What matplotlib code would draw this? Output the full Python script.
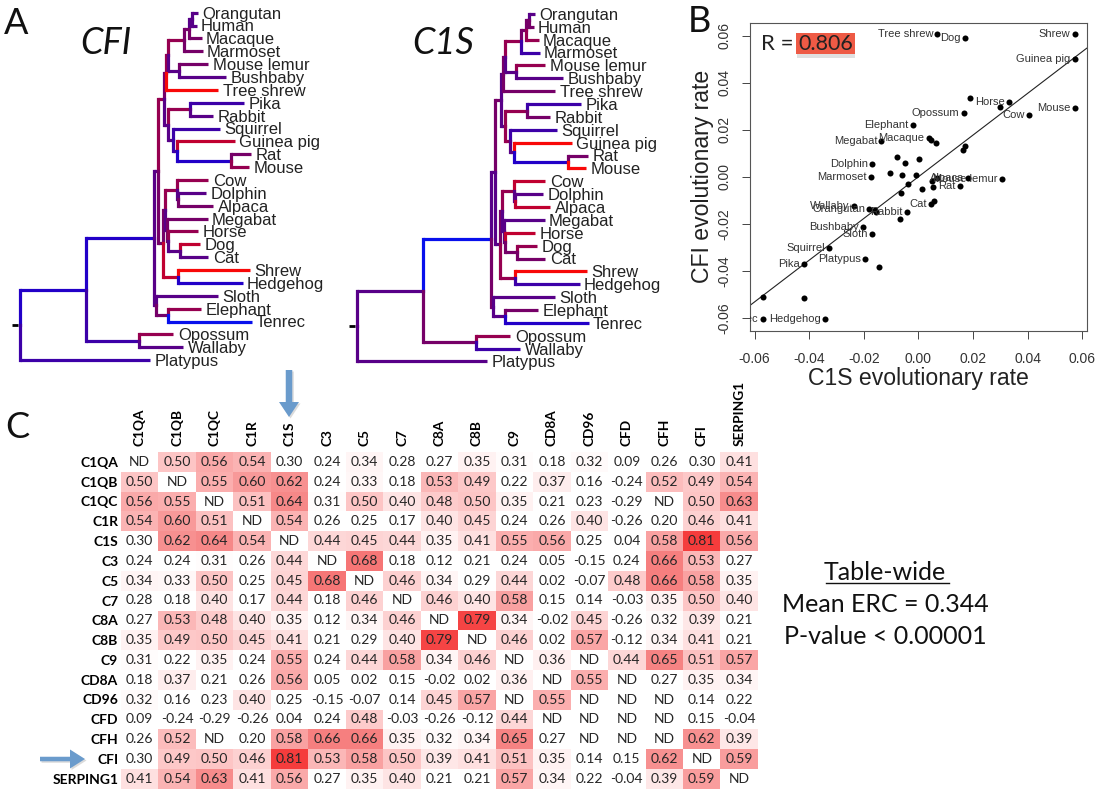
import numpy as np
import matplotlib
matplotlib.use("Agg")
import matplotlib.pyplot as plt
from matplotlib.colors import LinearSegmentedColormap
from matplotlib.patches import Rectangle, FancyArrow

plt.rcParams['axes.unicode_minus'] = False

W, H = 1101, 800

# ---------- panel A : shared species tree ----------
R_ = '#f80808'; r_ = '#c00030'; C_ = '#960050'; M_ = '#760068'
P_ = '#580088'; I_ = '#3c00a8'; B_ = '#2200c8'; U_ = '#0810ec'

def n(name, depth, cfi, c1s, *kids):
    return dict(name=name, depth=depth / 3.0, cfi=cfi, c1s=c1s, kids=kids)

species_tree = n(None, 60, I_, P_,
    n(None, 258, B_, P_,
        n(None, 463, B_, U_,
            n(None, 475, P_, P_,
                n(None, 493, C_, M_,
                    n(None, 497, M_, P_,
                        n(None, 505, C_, M_,
                            n(None, 553, C_, C_,
                                n(None, 567, M_, M_,
                                    n(None, 577, P_, M_,
                                        n('Orangutan', 594, P_, P_),
                                        n('Human', 590, P_, M_)),
                                    n('Macaque', 605, M_, C_)),
                                n('Marmoset', 608, M_, I_)),
                            n(None, 537, P_, P_,
                                n('Mouse lemur', 625, M_, C_),
                                n('Bushbaby', 678, P_, P_))),
                        n('Tree shrew', 655, R_, M_)),
                    n(None, 503, P_, P_,
                        n(None, 570, C_, C_,
                            n('Pika', 733, I_, I_),
                            n('Rabbit', 640, P_, M_)),
                        n(None, 520, P_, C_,
                            n('Squirrel', 660, I_, I_),
                            n(None, 530, I_, P_,
                                n('Guinea pig', 705, r_, R_),
                                n(None, 693, B_, B_,
                                    n('Rat', 753, M_, M_),
                                    n('Mouse', 748, C_, R_)))))),
                n(None, 490, M_, P_,
                    n(None, 495, M_, M_,
                        n(None, 530, C_, C_,
                            n('Cow', 625, C_, r_),
                            n(None, 535, P_, P_,
                                n('Dolphin', 618, P_, P_),
                                n('Alpaca', 640, M_, r_))),
                        n(None, 500, P_, P_,
                            n('Megabat', 623, M_, P_),
                            n(None, 505, M_, P_,
                                n('Horse', 595, C_, r_),
                                n(None, 540, P_, M_,
                                    n('Dog', 600, r_, C_),
                                    n('Cat', 625, P_, M_))))),
                    n(None, 533, r_, C_,
                        n('Shrew', 750, R_, R_),
                        n('Hedgehog', 728, B_, I_)))),
            n(None, 467, P_, M_,
                n('Sloth', 655, P_, P_),
                n(None, 505, M_, P_,
                    n('Elephant', 603, C_, M_),
                    n('Tenrec', 755, U_, B_)))),
        n(None, 418, I_, M_,
            n('Opossum', 520, C_, C_),
            n('Wallaby', 550, P_, I_))),
    n('Platypus', 450, I_, P_))

# ---------- panel B ----------
rate_names = ['Tree shrew', 'Dog', 'Shrew', 'Guinea pig', '', 'Horse', '', 'Mouse', 'Cow', 'Opossum',
              'Elephant', 'Megabat', 'Macaque', '', '', '', '', '', '', '', 'Dolphin', '', '', '',
              'Marmoset', '', '', '', 'Alpaca', 'Mouse lemur', 'Rat', '', '', '', 'Cat', '',
              'Wallaby', 'Orangutan', '', '', 'Rabbit', '', 'Bushbaby', 'Sloth', 'Squirrel',
              'Platypus', '', 'Pika', '', '', 'Hedgehog', 'Tenrec']
c1s_rate = [.0069, .0169, .0572, .0572, .0187, .0331, .0297, .0572, .0405, .0165,
            -.0020, -.0136, .0037, .0046, .0063, .0169, .0164, -.0078, .0003, -.0049, -.0169, -.0104, -.0062, -.0008,
            -.0174, -.0038, .0051, .0069, .0181, .0305, .0152, .0054, .0014, -.0063, .0045, .0057,
            -.0237, -.0180, -.0159, -.0156, -.0042, -.0067, -.0204, -.0171, -.0328,
            -.0197, -.0145, -.0421, -.0571, -.0421, -.0344, -.0571]
cfi_rate = [.0607, .0590, .0607, .0501, .0333, .0319, .0296, .0292, .0261, .0270,
            .0218, .0152, .0166, .0156, .0142, .0132, .0113, .0085, .0075, .0057, .0052, .0016, .0006, .0006,
            -.0001, -.0031, -.0020, -.0006, -.0004, -.0010, -.0041, -.0043, -.0054, -.0070, -.0116, -.0104,
            -.0126, -.0136, -.0142, -.0152, -.0150, -.0179, -.0216, -.0243, -.0304,
            -.0352, -.0384, -.0372, -.0513, -.0515, -.0607, -.0607]
fit_slope = 0.887
rate_ticks = [-0.06, -0.04, -0.02, 0.00, 0.02, 0.04, 0.06]

# ---------- panel C ----------
genes = ['C1QA', 'C1QB', 'C1QC', 'C1R', 'C1S', 'C3', 'C5', 'C7', 'C8A', 'C8B', 'C9',
         'CD8A', 'CD96', 'CFD', 'CFH', 'CFI', 'SERPING1']
N = np.nan
erc = np.array([
    [N, .50, .56, .54, .30, .24, .34, .28, .27, .35, .31, .18, .32, .09, .26, .30, .41],
    [.50, N, .55, .60, .62, .24, .33, .18, .53, .49, .22, .37, .16, -.24, .52, .49, .54],
    [.56, .55, N, .51, .64, .31, .50, .40, .48, .50, .35, .21, .23, -.29, N, .50, .63],
    [.54, .60, .51, N, .54, .26, .25, .17, .40, .45, .24, .26, .40, -.26, .20, .46, .41],
    [.30, .62, .64, .54, N, .44, .45, .44, .35, .41, .55, .56, .25, .04, .58, .81, .56],
    [.24, .24, .31, .26, .44, N, .68, .18, .12, .21, .24, .05, -.15, .24, .66, .53, .27],
    [.34, .33, .50, .25, .45, .68, N, .46, .34, .29, .44, .02, -.07, .48, .66, .58, .35],
    [.28, .18, .40, .17, .44, .18, .46, N, .46, .40, .58, .15, .14, -.03, .35, .50, .40],
    [.27, .53, .48, .40, .35, .12, .34, .46, N, .79, .34, -.02, .45, -.26, .32, .39, .21],
    [.35, .49, .50, .45, .41, .21, .29, .40, .79, N, .46, .02, .57, -.12, .34, .41, .21],
    [.31, .22, .35, .24, .55, .24, .44, .58, .34, .46, N, .36, N, .44, .65, .51, .57],
    [.18, .37, .21, .26, .56, .05, .02, .15, -.02, .02, .36, N, .55, N, .27, .35, .34],
    [.32, .16, .23, .40, .25, -.15, -.07, .14, .45, .57, N, .55, N, N, N, .14, .22],
    [.09, -.24, -.29, -.26, .04, .24, .48, -.03, -.26, -.12, .44, N, N, N, N, .15, -.04],
    [.26, .52, N, .20, .58, .66, .66, .35, .32, .34, .65, .27, N, N, N, .62, .39],
    [.30, .49, .50, .46, .81, .53, .58, .50, .39, .41, .51, .35, .14, .15, .62, N, .59],
    [.41, .54, .63, .41, .56, .27, .35, .40, .21, .21, .57, .34, .22, -.04, .39, .59, N]])

fig = plt.figure(figsize=(W / 100, H / 100), dpi=100, facecolor='white')

def axes_px(l, t, r, b, **kw):
    return fig.add_axes([l / W, 1 - b / H, (r - l) / W, (b - t) / H], **kw)

# ---------- trees ----------
TIP0, TIPSTEP = 12.7, 12.87
TREE_FONT = 'Liberation Sans'

def layout(node, next_tip):
    if not node['kids']:
        node['y'] = next_tip[0]
        next_tip[0] += 1
    else:
        for k in node['kids']:
            layout(k, next_tip)
        node['y'] = 0.5 * (node['kids'][0]['y'] + node['kids'][-1]['y'])

def draw_branches(ax, node, key):
    for k in node['kids']:
        ax.plot([node['depth'], node['depth']], [node['y'], k['y']], color=k[key], lw=2.3,
                solid_capstyle='projecting', zorder=2)
        ax.plot([node['depth'], k['depth']], [k['y'], k['y']], color=k[key], lw=2.3,
                solid_capstyle='butt', zorder=2)
        draw_branches(ax, k, key)
    if not node['kids']:
        ax.annotate(node['name'], (node['depth'], node['y']), xytext=(3.2, -1.0),
                    textcoords='offset points', fontsize=12.0, family=TREE_FONT,
                    color='#222222', va='center', ha='left', zorder=3)

layout(species_tree, [0])

def draw_tree(left, top, key):
    ax = axes_px(left, top, left + 340, top + 375)
    ax.set_xlim(0, 340)
    ax.set_ylim((375 - TIP0) / TIPSTEP, -TIP0 / TIPSTEP)
    ax.axis('off')
    ax.patch.set_alpha(0)
    draw_branches(ax, species_tree, key)
    ax.plot([11.5, 18], [species_tree['y']] * 2, color='black', lw=2, solid_capstyle='butt')

draw_tree(0, 0, 'cfi')
draw_tree(337, 1.3, 'c1s')

# ---------- scatter ----------
ax = axes_px(750.3, 22.7, 1086.7, 330.7)
ax.set_xlim(-0.0616, 0.0616)
ax.set_ylim(-0.0655, 0.0655)
ax.scatter(c1s_rate, cfi_rate, s=19, color='black', zorder=3, linewidths=0)
ax.axline((0, 0), slope=fit_slope, color='#222222', lw=0.8, zorder=2)
for name, x, y in zip(rate_names, c1s_rate, cfi_rate):
    if name:
        ax.annotate(name, (x, y), xytext=(-3, 0), textcoords='offset points', ha='right', va='center',
                    fontsize=8, family='Liberation Sans', color='#333333', annotation_clip=True, clip_on=True)
ax.set_xticks(rate_ticks)
ax.set_yticks(rate_ticks)
ax.set_xticklabels([f'{t:.2f}' for t in rate_ticks], fontsize=10, family='Liberation Sans', color='#333333')
ax.set_yticklabels([f'{t:.2f}' for t in rate_ticks], fontsize=10, family='Liberation Sans', color='#333333',
                   rotation=90, va='center')
ax.tick_params(length=5.5, width=0.7, color='#444444')
ax.tick_params(axis='x', pad=10)
ax.tick_params(axis='y', pad=8)
for s in ax.spines.values():
    s.set_color('#555555')
    s.set_linewidth(0.8)
ax.set_xlabel('C1S evolutionary rate', fontsize=16.6, family='Liberation Sans', color='#222222', labelpad=0.5)
ax.set_ylabel('CFI evolutionary rate', fontsize=16.6, family='Liberation Sans', color='#222222', labelpad=2.5)

# ---------- heat table ----------
cmap = LinearSegmentedColormap.from_list('erc', [(0.0, '#ffffff'), (0.12, '#fff0f0'), (0.40, '#fdc4c4'),
                                                 (0.50, '#fbacac'), (0.66, '#f78a8a'), (1.0, '#f53c3c')])
cmap.set_bad('white')
ax = axes_px(121, 452, 758, 788.6)
ax.imshow(np.ma.masked_invalid(erc), cmap=cmap, vmin=0.30, vmax=0.81, aspect='auto', interpolation='nearest')
for i in range(len(genes)):
    for j in range(len(genes)):
        v = erc[i, j]
        ax.text(j, i, 'ND' if np.isnan(v) else f'{v:.2f}', ha='center', va='center',
                fontsize=10, family='Lato', color='#262626')
ax.set_xticks(range(len(genes)))
ax.set_yticks(range(len(genes)))
ax.set_xticklabels(genes, rotation=90, fontsize=9.8, family='Lato', fontweight='bold', ha='center', va='bottom')
ax.set_yticklabels(genes, fontsize=10, family='Lato', fontweight='bold')
ax.xaxis.tick_top()
ax.tick_params(length=0, pad=4)
ax.tick_params(axis='y', pad=2)
for s in ax.spines.values():
    s.set_visible(False)

# ---------- annotations overlay ----------
ov = axes_px(0, 0, W, H, zorder=10)
ov.set_xlim(0, W)
ov.set_ylim(H, 0)
ov.axis('off')
ov.patch.set_alpha(0)

def label(x, y, s, size, **kw):
    kw.setdefault('family', 'Lato')
    kw.setdefault('color', '#111111')
    kw.setdefault('ha', 'center')
    kw.setdefault('va', 'center')
    ov.text(x, y, s, fontsize=size, **kw)

label(16, 23, 'A', 26)
label(699, 21, 'B', 26)
label(17, 428, 'C', 26)
label(106, 44, 'CFI', 26, style='italic')
label(443, 44, 'C1S', 26, style='italic')

ov.add_patch(Rectangle((797, 35.5), 58, 22, color='#999999', alpha=0.3, lw=0))
ov.add_patch(Rectangle((796, 33.3), 58.7, 21, color='#ee5a45', lw=0))
label(825.3, 43.5, '0.806', 15.5, color='#222222')
label(777.5, 43.5, 'R =', 16, color='#222222')

label(885, 572, 'Table-wide', 18)
ov.plot([826, 949], [583, 583], color='#111111', lw=1.0)
label(885, 604, 'Mean ERC = 0.344', 18)
label(885, 636, 'P-value < 0.00001', 18)

ARROW = '#6a9bcc'
for dx, dy, col, a in [(1.5, 1.5, '#888888', 0.3), (0, 0, ARROW, 1.0)]:
    ov.add_patch(FancyArrow(289 + dx, 370 + dy, 0, 47, width=6.5, head_width=20, head_length=15,
                            length_includes_head=True, color=col, alpha=a, lw=0))
    ov.add_patch(FancyArrow(40 + dx, 759 + dy, 45, 0, width=4.5, head_width=19, head_length=15,
                            length_includes_head=True, color=col, alpha=a, lw=0))

fig.savefig('out.png', dpi=100)
